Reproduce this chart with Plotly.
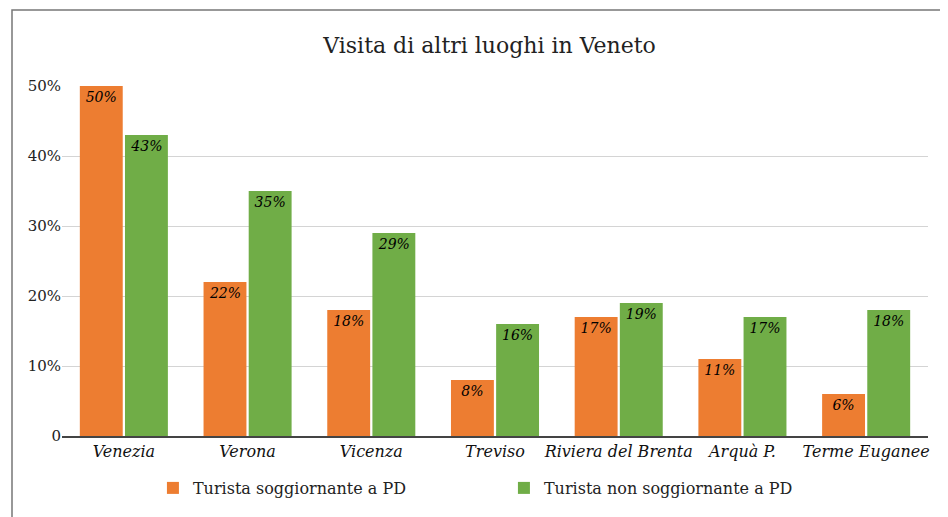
import plotly.graph_objects as go

categories = ["Venezia", "Verona", "Vicenza", "Treviso", "Riviera del Brenta", "Arquà P.", "Terme Euganee"]
soggiornante = [50, 22, 18, 8, 17, 11, 6]
non_soggiornante = [43, 35, 29, 16, 19, 17, 18]
series_names = ["Turista soggiornante a PD", "Turista non soggiornante a PD"]
y_tickvals = [0, 10, 20, 30, 40, 50]
y_ticktext = ["0", "10%", "20%", "30%", "40%", "50%"]

FONT = "DejaVu Serif"
ORANGE = "#ED7D31"
GREEN = "#70AD47"

fig = go.Figure()
for name, vals, col in [(series_names[0], soggiornante, ORANGE), (series_names[1], non_soggiornante, GREEN)]:
    fig.add_trace(go.Bar(
        x=categories, y=vals, name=name,
        marker=dict(color=col, line=dict(width=0)),
        text=[f"{v}%" for v in vals], textposition="inside", insidetextanchor="end",
        textangle=0, constraintext="none", cliponaxis=False,
        textfont=dict(family=FONT, size=14, color="black", style="italic"),
        hoverinfo="x+y",
    ))

fig.update_layout(
    width=948, height=517,
    paper_bgcolor="white", plot_bgcolor="white",
    margin=dict(l=54, r=28, t=78, b=89),
    barmode="group", bargap=0.27, bargroupgap=0.05,
    title=dict(text="Visita di altri luoghi in Veneto", x=0.508, xanchor="center", y=0.928, yanchor="middle",
               font=dict(family=FONT, size=22, color="#222")),
    font=dict(family=FONT, color="#222"),
    legend=dict(orientation="h", x=0.105, xanchor="left", y=-0.10, yanchor="top",
                font=dict(family=FONT, size=16, color="#222"), traceorder="normal",
                itemwidth=30, entrywidth=306),
    showlegend=True,
    xaxis=dict(showline=True, linecolor="#444", linewidth=1.5, ticks="",
               tickfont=dict(family=FONT, size=16, color="#111", style="italic"),
               showgrid=False, automargin=False),
    yaxis=dict(range=[0, 50], tickvals=y_tickvals, ticktext=y_ticktext,
               showgrid=True, gridcolor="#d4d4d4", gridwidth=1,
               zeroline=False, showline=False, ticks="", automargin=False,
               tickfont=dict(family=FONT, size=15, color="#222")),
)

fig.add_shape(type="rect", xref="paper", yref="paper",
              x0=(4 - 54) / 866, x1=1.2, y0=-0.5, y1=1 + (78 - 2) / 350,
              line=dict(color="#777", width=1.5), fillcolor="rgba(0,0,0,0)", layer="below")

fig.write_html("out.html")
